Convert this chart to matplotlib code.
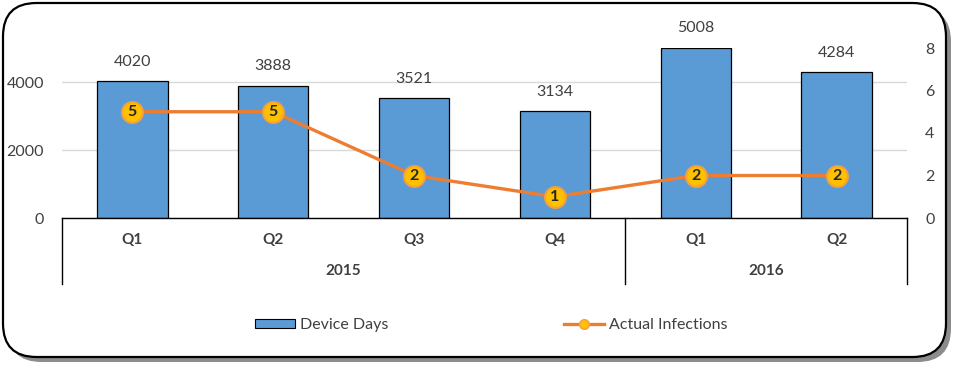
import matplotlib
matplotlib.use("Agg")
import matplotlib.pyplot as plt
from matplotlib.patches import FancyBboxPatch, Rectangle
from matplotlib.lines import Line2D

plt.rcParams['font.family'] = ['Lato', 'DejaVu Sans']

quarters = ["Q1", "Q2", "Q3", "Q4", "Q1", "Q2"]
years = ["2015", "2016"]
year_spans = [(0, 4), (4, 6)]
device_days = [4020, 3888, 3521, 3134, 5008, 4284]
infections = [5, 5, 2, 1, 2, 2]

W, H = 957, 366
fig = plt.figure(figsize=(W / 100, H / 100), dpi=100)

# rounded frame with shadow
shadow = FancyBboxPatch((8 / W, 4 / H), 943 / W, 354 / H,
                        boxstyle="round,pad=0,rounding_size=0.035",
                        transform=fig.transFigure, facecolor="#8c8c8c",
                        edgecolor="none", mutation_aspect=W / H, zorder=0)
fig.patches.append(shadow)
frame = FancyBboxPatch((3 / W, 9 / H), 943 / W, 354 / H,
                       boxstyle="round,pad=0,rounding_size=0.035",
                       transform=fig.transFigure, facecolor="white",
                       edgecolor="black", linewidth=1.6, mutation_aspect=W / H, zorder=1)
fig.patches.append(frame)

left, right, top, bottom = 62, 907, 48, 218
ax = fig.add_axes([left / W, 1 - bottom / H, (right - left) / W, (bottom - top) / H])
ax.set_zorder(2)
ax.patch.set_visible(False)
x = list(range(len(quarters)))
bars = ax.bar(x, device_days, width=0.5, color="#5b9bd5", edgecolor="black",
              linewidth=0.9, zorder=2, label="Device Days")
ax.set_xlim(-0.5, len(quarters) - 0.5)
ax.set_ylim(0, 5000)
ax.set_yticks([0, 2000, 4000])
ax.yaxis.grid(True, color="#d9d9d9", linewidth=1)
ax.set_axisbelow(True)
for s in ["top", "right", "left", "bottom"]:
    ax.spines[s].set_visible(False)
ax.tick_params(axis="y", length=0, labelsize=11.5, labelcolor="#404040", pad=13)
ax.set_xticks([])
for xi, v in zip(x, device_days):
    ax.annotate(str(v), (xi, v), xytext=(0, 14), textcoords="offset points",
                ha="center", va="center", fontsize=11.5, color="#404040")

# category table
tr = ax.get_xaxis_transform()
y_bot = -(284 - 218) / 170
ax.plot([-0.5, len(quarters) - 0.5], [0, 0], transform=tr, color="black",
        linewidth=1, clip_on=False, zorder=3)
for b in [-0.5, 3.5, 5.5]:
    ax.plot([b, b], [0, y_bot], transform=tr, color="black", linewidth=1, clip_on=False)
for xi, q in zip(x, quarters):
    ax.text(xi, -(240 - 218) / 170, q, transform=tr, ha="center", va="center",
            fontsize=11, fontweight="bold", color="#404040")
for (a, b), yr in zip(year_spans, years):
    ax.text((a + b - 1) / 2, -(271 - 218) / 170, yr, transform=tr, ha="center",
            va="center", fontsize=11, fontweight="bold", color="#404040")

ax2 = ax.twinx()
ax2.set_zorder(3)
ax2.plot(x, infections, color="#ed7d31", linewidth=2.4, marker="o", markersize=15,
         markerfacecolor="#ffc000", markeredgecolor="#f4a13a", markeredgewidth=1.5,
         label="Actual Infections", zorder=4)
ax2.set_ylim(0, 8)
ax2.set_yticks([0, 2, 4, 6, 8])
for s in ["top", "right", "left", "bottom"]:
    ax2.spines[s].set_visible(False)
ax2.tick_params(axis="y", length=0, labelsize=11.5, labelcolor="#404040", pad=13)
for xi, v in zip(x, infections):
    ax2.text(xi, v, str(v), ha="center", va="center", fontsize=11.5,
             fontweight="bold", color="#262626", zorder=5)

h1 = Rectangle((0, 0), 1, 1, facecolor="#5b9bd5", edgecolor="black", linewidth=0.8)
h2 = Line2D([], [], color="#ed7d31", linewidth=2.4, marker="o", markersize=7,
            markerfacecolor="#ffc000", markeredgecolor="#f4a13a")
leg = fig.legend([h1, h2], ["Device Days", "Actual Infections"], loc="center",
                 bbox_to_anchor=(0.5 + 13 / W, 1 - 325 / H), ncol=2, frameon=False,
                 fontsize=11.5, handlelength=2.5, handleheight=0.45,
                 columnspacing=11.0, handletextpad=0.3)
for t in leg.get_texts():
    t.set_color("#404040")

fig.savefig("out.png", dpi=100)
